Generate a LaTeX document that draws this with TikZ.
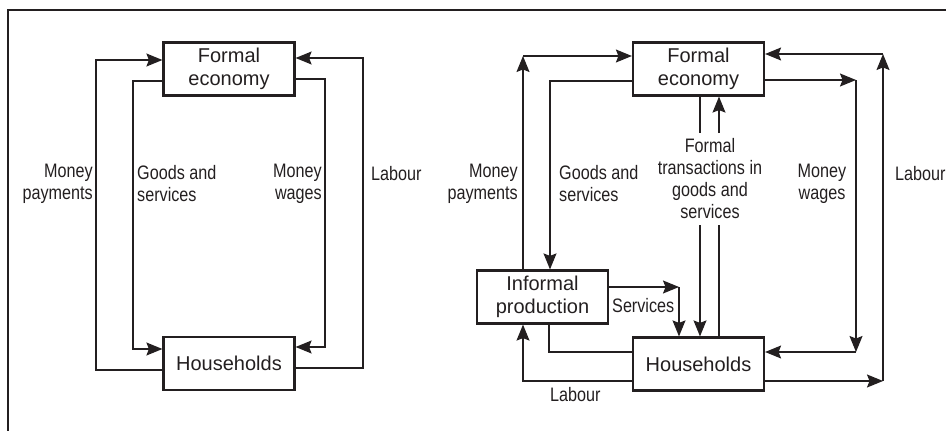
\documentclass[tikz,border=0pt]{standalone}
\usepackage{fontspec}
\setmainfont{Liberation Sans}
\newfontfamily\lblfont[FakeStretch=0.83]{Liberation Sans}
\usetikzlibrary{arrows.meta}
\definecolor{ink}{HTML}{231F20}
\begin{document}
\begin{tikzpicture}[x=1pt,y=-1pt,
  box/.style={draw=ink,line width=2.2pt,minimum width=131pt,minimum height=53pt,
    inner sep=0pt,align=center,font=\fontsize{20}{23}\selectfont,text=ink},
  flow/.style={draw=ink,line width=1.2pt,-{Stealth[length=16pt,width=13pt,inset=2.5pt]}},
  line/.style={draw=ink,line width=1.2pt},
  lbl/.style={font=\lblfont\fontsize{19.5}{22}\selectfont,text=ink,inner sep=0pt}]
% page extent and frame
\useasboundingbox (0,0) rectangle (946,431);
\draw[ink,line width=1.3pt] (8,431) -- (8,10) -- (946,10);

% ---------- simple circular flow ----------
\node[box] (FEL) at (229,69) {Formal\\economy};
\node[box] (HHL) at (229,363.5) {Households};

\coordinate (mpB) at (96,370);  \coordinate (mpT) at (96,60);
\coordinate (gsT) at (133,81);  \coordinate (gsB) at (133,349);
\coordinate (mwT) at (325,79);  \coordinate (mwB) at (325,347);
\coordinate (lbB) at (363,368); \coordinate (lbT) at (363,58);

\draw[flow] (HHL.west |- mpB) -- (mpB) -- (mpT) -- (FEL.west |- mpT);
\draw[flow] (FEL.west |- gsT) -- (gsT) -- (gsB) -- (HHL.west |- gsB);
\draw[flow] (FEL.east |- mwT) -- (mwT) -- (mwB) -- (HHL.east |- mwB);
\draw[flow] (HHL.east |- lbB) -- (lbB) -- (lbT) -- (FEL.east |- lbT);

\node[lbl,align=right,anchor=east] (tMPL) at (93,184) {Money\\payments};
\node[lbl,align=left,anchor=west] (tGSL) at (137,184) {Goods and\\services};
\node[lbl,align=right,anchor=east] (tMWL) at (322,184) {Money\\wages};
\node[lbl,anchor=west] (tLBL) at (371,174) {Labour};

% ---------- flow with informal production ----------
\node[box] (FER) at (698.5,69) {Formal\\economy};
\node[box] (HHR) at (698.5,364) {Households};
\node[box] (IP) at (542.5,297) {Informal\\production};

\coordinate (rmpT) at (523,56);
\coordinate (rgsT) at (550,81);
\coordinate (ftA1) at (700,133); \coordinate (ftA2) at (700,225);
\coordinate (ftB1) at (719,133); \coordinate (ftB2) at (719,225);
\coordinate (rmwT) at (856,80);  \coordinate (rmwB) at (856,352);
\coordinate (rlbB) at (883,381); \coordinate (rlbT) at (883,54);
\coordinate (svC) at (679,287);
\coordinate (ipB) at (549,352);
\coordinate (rlL) at (523,381);

% money payments
\draw[flow] (IP.north -| rmpT) -- (rmpT);
\draw[flow] (rmpT) -- (FER.west |- rmpT);
% goods and services
\draw[flow] (FER.west |- rgsT) -- (rgsT) -- (IP.north -| rgsT);
% formal transactions
\draw[line] (FER.south -| ftA1) -- (ftA1);
\draw[flow] (ftA2) -- (HHR.north -| ftA2);
\draw[flow] (ftB1) -- (FER.south -| ftB1);
\draw[line] (HHR.north -| ftB2) -- (ftB2);
% money wages
\draw[flow] (FER.east |- rmwT) -- (rmwT);
\draw[flow] (rmwT) -- (rmwB);
\draw[flow] (rmwB) -- (HHR.east |- rmwB);
% labour to the formal economy
\draw[flow] (HHR.east |- rlbB) -- (rlbB);
\draw[flow] (rlbB) -- (rlbT);
\draw[flow] (rlbT) -- (FER.east |- rlbT);
% services
\draw[flow] (IP.east |- svC) -- (svC);
\draw[flow] (svC) -- (HHR.north -| svC);
% informal production to households
\draw[line] (IP.south -| ipB) -- (ipB) -- (HHR.west |- ipB);
% labour to informal production
\draw[flow] (HHR.west |- rlL) -- (rlL) -- (IP.south -| rlL);

\node[lbl,align=right,anchor=east] (tMPR) at (518,184) {Money\\payments};
\node[lbl,align=left,anchor=west] (tGSR) at (559,184) {Goods and\\services};
\node[lbl,align=center] (tFT) at (710,179) {Formal\\transactions in\\goods and\\services};
\node[lbl,align=center] (tMWR) at (822,184) {Money\\wages};
\node[lbl,anchor=west] (tLBR) at (895,174) {Labour};
\node[lbl,anchor=west] (tSV) at (612,306) {Services};
\node[lbl,anchor=west] (tLBI) at (550,395) {Labour};
\end{tikzpicture}
\end{document}
